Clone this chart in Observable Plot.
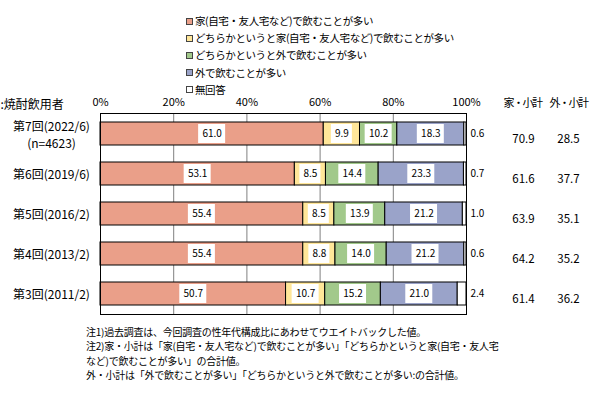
<!DOCTYPE html>
<html><head><meta charset="utf-8">
<script src="https://cdn.jsdelivr.net/npm/d3@7"></script>
<script src="https://cdn.jsdelivr.net/npm/@observablehq/plot@0.6"></script>
<style>
  body{margin:0;background:#fff;width:603px;height:397px;overflow:hidden;font-family:"Noto Sans CJK JP","Noto Sans",sans-serif;color:#000}
  #legend{position:relative;height:94px}
  .li{position:absolute;left:186px;font-size:10.5px;letter-spacing:-0.4px;line-height:14px;white-space:nowrap;display:flex;align-items:center}
  .sw{width:5px;height:5px;border:1px solid #444;margin-right:2px}
  #notes{padding-left:86px;padding-top:6px;font-size:10px;letter-spacing:-0.25px;line-height:14.3px;white-space:nowrap}
  svg{display:block}
</style></head>
<body>
<div id="legend"></div>
<div id="chart"></div>
<div id="notes"></div>
<script>
const rounds = ["第7回(2022/6)", "第6回(2019/6)", "第5回(2016/2)", "第4回(2013/2)", "第3回(2011/2)"];
const roundSub = ["(n=4623)", "", "", "", ""];
const categories = [
  "家(自宅・友人宅など)で飲むことが多い",
  "どちらかというと家(自宅・友人宅など)で飲むことが多い",
  "どちらかというと外で飲むことが多い",
  "外で飲むことが多い",
  "無回答"
];
const colors = ["#EA9F89", "#FFE699", "#A2C98B", "#9AA3C9", "#FFFFFF"];
const home      = [61.0, 53.1, 55.4, 55.4, 50.7];
const leanHome  = [9.9, 8.5, 8.5, 8.8, 10.7];
const leanOut   = [10.2, 14.4, 13.9, 14.0, 15.2];
const out       = [18.3, 23.3, 21.2, 21.2, 21.0];
const noAnswer  = [0.6, 0.7, 1.0, 0.6, 2.4];
const homeSubtotal = [70.9, 61.6, 63.9, 64.2, 61.4];
const outSubtotal  = [28.5, 37.7, 35.1, 35.2, 36.2];
const xTicks = [0, 20, 40, 60, 80, 100];
const gridTicks = [20, 40, 60, 80];
const headerLeft = ":焼酎飲用者";
const headerHome = "家・小計";
const headerOut = "外・小計";
const notes = [
  "注1)過去調査は、今回調査の性年代構成比にあわせてウエイトバックした値。",
  "注2)家・小計は「家(自宅・友人宅など)で飲むことが多い」「どちらかというと家(自宅・友人宅",
  "など)で飲むことが多い」の合計値。",
  "外・小計は「外で飲むことが多い」「どちらかというと外で飲むことが多い:の合計値。"
];

// legend
const leg = document.getElementById("legend");
categories.forEach((c, i) => {
  const el = document.createElement("div");
  el.className = "li";
  el.style.top = (14 + i * 17.2) + "px";
  el.innerHTML = `<span class="sw" style="background:${colors[i]}"></span><span>${c}</span>`;
  leg.appendChild(el);
});
document.getElementById("notes").innerHTML = notes.map(n => `<div>${n}</div>`).join("");

// table
const series = [home, leanHome, leanOut, out, noAnswer];
const table = [];
rounds.forEach((r, i) => {
  let acc = 0;
  series.forEach((s, j) => {
    const v = s[i];
    table.push({round: r, cat: categories[j], j, value: v, x1: acc, x2: acc + v, mid: acc + v / 2, label: v.toFixed(1)});
    acc += v;
  });
});
const inner = table.filter(d => d.j < 4);
const rowData = rounds.map((r, i) => ({round: r, label: roundSub[i] ? r + "\n" + roundSub[i] : r, hs: homeSubtotal[i].toFixed(1), os: outSubtotal[i].toFixed(1)}));

const chart = Plot.plot({
  width: 603,
  height: 225,
  marginTop: 19,
  marginBottom: 5,
  marginLeft: 100,
  marginRight: 137,
  style: {fontFamily: '"Noto Sans CJK JP","Noto Sans",sans-serif', fontSize: "11px", background: "white", color: "#000"},
  x: {domain: [0, 100], axis: "top", ticks: xTicks, tickSize: 0, tickPadding: 8, tickFormat: d => d + "%", label: null},
  y: {domain: rounds, axis: null, paddingInner: 0.43, paddingOuter: 0.215},
  color: {domain: categories, range: colors},
  marks: [
    Plot.ruleX(gridTicks, {stroke: "#808080", strokeWidth: 1}),
    Plot.barX(table, {y: "round", x1: "x1", x2: "x2", fill: "cat", stroke: "#000", strokeWidth: 1}),
    Plot.barX(inner.filter(d => d.label.length >= 4), {y: "round", x1: "mid", x2: "mid", fill: "white", insetLeft: -13.5, insetRight: -13.5, insetTop: 2, insetBottom: 2}),
    Plot.barX(inner.filter(d => d.label.length < 4), {y: "round", x1: "mid", x2: "mid", fill: "white", insetLeft: -10.5, insetRight: -10.5, insetTop: 2, insetBottom: 2}),
    Plot.text(inner, {y: "round", x: "mid", text: "label", fontSize: 10}),
    Plot.text(table.filter(d => d.j === 4), {y: "round", x: "x2", text: "label", dx: 4, textAnchor: "start", fontSize: 10}),
    Plot.text(rowData, {y: "round", frameAnchor: "right", dx: 57, dy: 5, text: "hs", textAnchor: "middle", fontSize: 11.5}),
    Plot.text(rowData, {y: "round", frameAnchor: "right", dx: 102, dy: 5, text: "os", textAnchor: "middle", fontSize: 11.5}),
    Plot.text(rowData, {y: "round", frameAnchor: "left", dx: -49, text: "label", textAnchor: "middle", lineHeight: 1.4, fontSize: 12}),
    Plot.text([headerLeft], {frameAnchor: "top-left", dx: -100, dy: -13, textAnchor: "start", fontSize: 12}),
    Plot.text([headerHome], {frameAnchor: "top-right", dx: 56, dy: -14, textAnchor: "middle", fontSize: 11}),
    Plot.text([headerOut], {frameAnchor: "top-right", dx: 102, dy: -14, textAnchor: "middle", fontSize: 11}),
    Plot.frame({stroke: "#000", strokeWidth: 1})
  ]
});
d3.select(chart).selectAll("text").filter(function() { return this.textContent === headerHome || this.textContent === headerOut; })
  .attr("letter-spacing", "-1.5px");
document.getElementById("chart").appendChild(chart);
</script>
</body></html>
